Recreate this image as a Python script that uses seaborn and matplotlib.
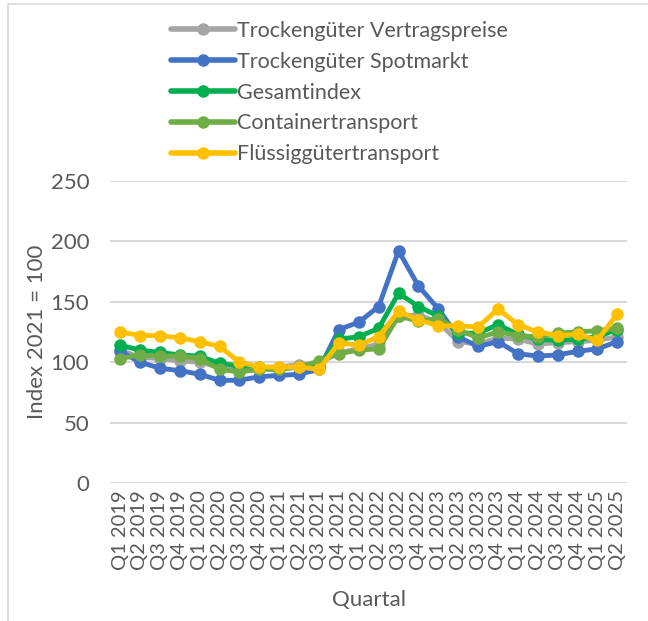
import pandas as pd
import seaborn as sns
import matplotlib.pyplot as plt
from matplotlib.lines import Line2D

sns.set_theme(style="white")
plt.rcParams['font.family'] = ['Lato', 'DejaVu Sans']

# Quarters Q1 2019 .. Q2 2025
quarters = [f"Q{q} {y}" for y in range(2019, 2026) for q in range(1, 5)][:26]

series_names = [
    "Trockengüter Vertragspreise",
    "Trockengüter Spotmarkt",
    "Gesamtindex",
    "Containertransport",
    "Flüssiggütertransport",
]
series_colors = ["#A5A5A5", "#4472C4", "#00B050", "#70AD47", "#FFC000"]

vertrag = [110, 104, 103, 101, 100, 96, 95, 95, 96, 98, 99, 108, 111, 115, 138, 139,
           133, 117, 115, 120, 119, 115, 116, 117, 118, 121]
spot = [109, 100, 95, 93, 90, 85, 85, 88, 89, 90, 94, 127, 133, 146, 192, 163,
        144, 121, 113, 117, 107, 105, 106, 109, 111, 117]
gesamt = [114, 110, 108, 106, 105, 99, 97, 96, 95, 96, 97, 119, 121, 128, 157, 146,
          138, 124, 124, 131, 123, 119, 118, 119, 121, 127]
container = [103, 106, 105, 105, 103, 94, 92, 94, 94, 96, 101, 107, 110, 111, 138, 134,
             136, 127, 120, 125, 122, 121, 124, 125, 126, 128]
fluessig = [125, 122, 122, 120, 117, 113, 100, 96, 96, 96, 94, 116, 114, 121, 142, 135,
            130, 130, 129, 144, 131, 125, 122, 123, 118, 140]

all_values = [vertrag, spot, gesamt, container, fluessig]

rows = []
for name, vals in zip(series_names, all_values):
    for q, v in zip(quarters, vals):
        rows.append([q, name, v])
df = pd.DataFrame(rows, columns=["Quartal", "Reihe", "Index"])

fig = plt.figure(figsize=(6.48, 6.21), dpi=100)
ax = fig.add_axes([0.170, 0.222, 0.798, 0.487])

sns.lineplot(data=df, x="Quartal", y="Index", hue="Reihe", palette=series_colors,
             hue_order=series_names, marker="o", markersize=9, markeredgewidth=0,
             linewidth=3.5, sort=False, ax=ax, legend=False)

text_col = "#595959"
ax.set_xlim(-0.5, len(quarters) - 0.5)
ax.set_ylim(0, 250)
ax.set_yticks([0, 50, 100, 150, 200, 250])
ax.yaxis.grid(True, color="#D9D9D9", linewidth=1.5)
ax.set_axisbelow(True)
for s in ax.spines.values():
    s.set_visible(False)
ax.tick_params(axis="y", labelsize=16, colors=text_col, length=0, pad=15)
ax.tick_params(axis="x", labelsize=14.5, colors=text_col, length=0, pad=5)
ax.set_xticks(range(len(quarters)))
ax.set_xticklabels(quarters, rotation=90)
ax.set_xlabel("Quartal", fontsize=16, color=text_col, labelpad=14)
ax.set_ylabel("Index 2021 = 100", fontsize=16, color=text_col, labelpad=3)

handles = [Line2D([0], [0], color=c, linewidth=4, marker="o", markersize=9,
                  markeredgewidth=0) for c in series_colors]
fig.legend(handles, series_names, loc="upper left", bbox_to_anchor=(0.25, 0.98),
           frameon=False, fontsize=15.5, handlelength=3.0, handletextpad=0.1,
           labelspacing=0.5, labelcolor=text_col, borderaxespad=0)

# outer chart frame
fig.add_artist(Line2D([8 / 648, 1], [1 - 4 / 621, 1 - 4 / 621], color="#D9D9D9", linewidth=1.2))
fig.add_artist(Line2D([8 / 648, 8 / 648], [0, 1 - 4 / 621], color="#D9D9D9", linewidth=1.2))

fig.savefig("out.png", dpi=100)
